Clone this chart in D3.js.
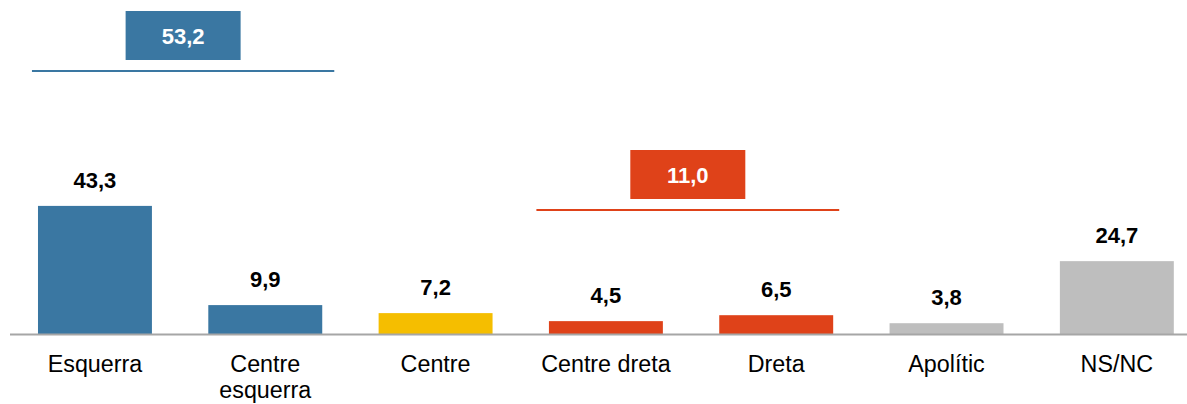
<!DOCTYPE html>
<html>
<head>
<meta charset="utf-8">
<script src="https://cdn.jsdelivr.net/npm/d3@7"></script>
<style>
  html, body { margin: 0; padding: 0; background: #fff; }
  svg { display: block; font-family: "Liberation Sans", Arial, sans-serif; }
</style>
</head>
<body>
<svg id="chart" width="1187" height="404"></svg>
<script>
// ---- data ----
const categories = ["Esquerra", "Centre esquerra", "Centre", "Centre dreta", "Dreta", "Apolític", "NS/NC"];
const categoryLines = [["Esquerra"], ["Centre", "esquerra"], ["Centre"], ["Centre dreta"], ["Dreta"], ["Apolític"], ["NS/NC"]];
const values = [43.3, 9.9, 7.2, 4.5, 6.5, 3.8, 24.7];
const valueLabels = ["43,3", "9,9", "7,2", "4,5", "6,5", "3,8", "24,7"];
const barColors = ["#3a77a2", "#3a77a2", "#f5be00", "#df4219", "#df4219", "#bebebe", "#bebebe"];
const groupFrom = ["Esquerra", "Centre dreta"];
const groupTo = ["Centre esquerra", "Dreta"];
const groupTotals = ["53,2", "11,0"];
const groupColors = ["#3a77a2", "#df4219"];

// ---- layout ----
const svg = d3.select("#chart");
const baseY = 334.5;
const x = d3.scaleBand().domain(categories).range([9.8, 1202]).paddingInner(0.331).paddingOuter(0.1655);
const y = d3.scaleLinear().domain([0, 60]).range([baseY, baseY - 60 * 2.97]);

// bars
svg.append("g").selectAll("rect").data(values).join("rect")
  .attr("x", (d, i) => x(categories[i]))
  .attr("y", d => y(d))
  .attr("width", x.bandwidth())
  .attr("height", d => y(0) - y(d))
  .attr("fill", (d, i) => barColors[i]);

// value labels
svg.append("g").selectAll("text").data(values).join("text")
  .attr("x", (d, i) => x(categories[i]) + x.bandwidth() / 2)
  .attr("y", d => y(d) - 18)
  .attr("text-anchor", "middle")
  .attr("font-size", 22)
  .attr("font-weight", "bold")
  .attr("fill", "#000")
  .text((d, i) => valueLabels[i]);

// x axis
const axis = svg.append("g").attr("transform", `translate(0,${baseY})`)
  .call(d3.axisBottom(x).tickSize(0).tickPadding(0));
axis.select(".domain").attr("stroke", "#a6a6a6").attr("stroke-width", 2).attr("d", `M10,0H1187`);
axis.selectAll(".tick text").each(function(d, i) {
  const t = d3.select(this);
  t.text(null).attr("y", 0).attr("dy", null)
    .attr("font-size", 23.3).attr("fill", "#000")
    .attr("font-family", "Liberation Sans, Arial, sans-serif");
  categoryLines[categories.indexOf(d)].forEach((ln, j) => {
    t.append("tspan").attr("x", 0).attr("y", 37 + j * 26).text(ln);
  });
});

// group summaries
const groupLineY = [71, 210];
const groupBoxTop = [11, 150];
const groupLeftOff = [63, 69.5];
const groupRightOff = [69, 63];
groupTotals.forEach((lab, g) => {
  const x1 = x(groupFrom[g]) + x.bandwidth() / 2 - groupLeftOff[g];
  const x2 = x(groupTo[g]) + x.bandwidth() / 2 + groupRightOff[g];
  const cx = (x1 + x2) / 2;
  svg.append("line")
    .attr("x1", x1).attr("x2", x2)
    .attr("y1", groupLineY[g]).attr("y2", groupLineY[g])
    .attr("stroke", groupColors[g]).attr("stroke-width", 2);
  svg.append("rect")
    .attr("x", cx - 57.5).attr("y", groupBoxTop[g])
    .attr("width", 115).attr("height", 49)
    .attr("fill", groupColors[g]);
  svg.append("text")
    .attr("x", cx).attr("y", groupBoxTop[g] + 32.5)
    .attr("text-anchor", "middle")
    .attr("font-size", 22).attr("font-weight", "bold")
    .attr("fill", "#fff")
    .text(lab);
});
</script>
</body>
</html>
